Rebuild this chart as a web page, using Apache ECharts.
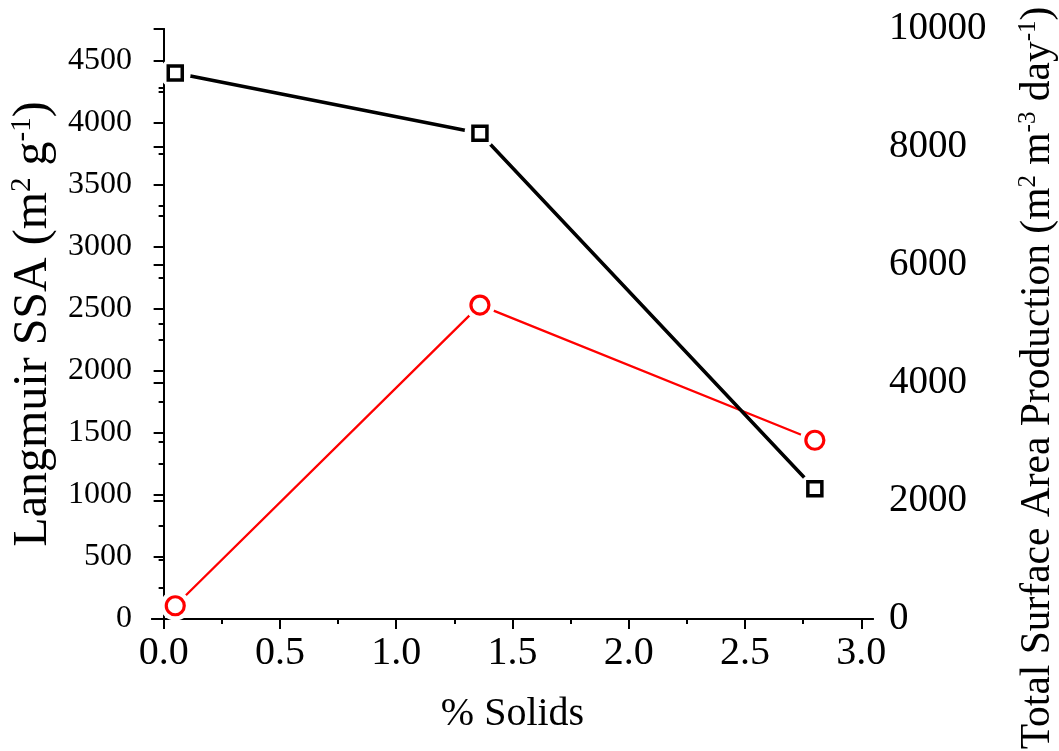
<!DOCTYPE html>
<html><head><meta charset="utf-8">
<script src="https://cdn.jsdelivr.net/npm/echarts@6/dist/echarts.min.js"></script>
<style>html,body{margin:0;padding:0;background:#fff}#c{width:1059px;height:751px}</style>
</head><body><div id="c"></div>
<script>
// ---- data ----
const solids = [0.05, 1.36, 2.80];
const langmuirSSA = [4400, 3915, 1050];
const totalSAProduction = [225, 5320, 3030];
const xMajorTicks = [0, 0.5, 1.0, 1.5, 2.0, 2.5, 3.0];
const xMinorTicks = [0.25, 0.75, 1.25, 1.75, 2.25, 2.75];
const leftMajorTicks = [0, 500, 1000, 1500, 2000, 2500, 3000, 3500, 4000, 4500];
const leftMinorTicks = [250, 750, 1250, 1750, 2250, 2750, 3250, 3750, 4250];

const FONT = 'Liberation Serif';
const X_MIN = -0.05, X_MAX = 3.05, L_MAX = 4755, R_MAX = 10000;

const axisLineStyle = {show: true, lineStyle: {color: '#000', width: 2}};
const tickLine = {color: '#000', width: 2};

const redPts = solids.map((x, i) => [x, totalSAProduction[i]]);
const blackPts = solids.map((x, i) => [x, langmuirSSA[i]]);

const chart = echarts.init(document.getElementById('c'), null, {renderer: 'canvas'});
chart.setOption({
  animation: false,
  backgroundColor: '#fff',
  grid: {left: 152, right: 186, top: 29, bottom: 132, outerBoundsMode: 'none', containLabel: false},
  xAxis: [
    { // bottom, major ticks + labels
      type: 'value', position: 'bottom', min: X_MIN, max: X_MAX,
      axisLine: axisLineStyle, splitLine: {show: false},
      axisTick: {show: true, length: 10, inside: false, customValues: xMajorTicks, lineStyle: tickLine},
      axisLabel: {customValues: xMajorTicks, formatter: v => v.toFixed(1), fontFamily: FONT, fontSize: 40, color: '#000', margin: 14},
      name: '% Solids', nameLocation: 'middle', nameGap: 75,
      nameTextStyle: {fontFamily: FONT, fontSize: 40, color: '#000'}
    },
    { // bottom, minor ticks
      type: 'value', position: 'bottom', min: X_MIN, max: X_MAX,
      axisLine: {show: false}, splitLine: {show: false},
      axisTick: {show: true, length: 5, inside: false, customValues: xMinorTicks, lineStyle: tickLine},
      axisLabel: {show: false}
    },
    { // top border
      type: 'value', position: 'top', min: X_MIN, max: X_MAX,
      axisLine: axisLineStyle, splitLine: {show: false},
      axisTick: {show: true, length: 3, inside: true, customValues: xMajorTicks.concat(xMinorTicks), lineStyle: {color: '#000', width: 1.5}},
      axisLabel: {show: false}
    }
  ],
  yAxis: [
    { // left
      type: 'value', position: 'left', min: 0, max: L_MAX,
      axisLine: axisLineStyle, splitLine: {show: false},
      axisTick: {show: true, length: 10, inside: false, customValues: leftMajorTicks, lineStyle: tickLine},
      axisLabel: {customValues: leftMajorTicks, formatter: v => String(v), fontFamily: FONT, fontSize: 32, color: '#000', margin: 20},
      name: '{a|Langmuir SSA (m}{s|2}{a| g}{s|-1}{a|)}',
      nameLocation: 'middle', nameRotate: 90, nameGap: 70,
      nameTextStyle: {
        rich: {
          a: {fontFamily: FONT, fontSize: 48, color: '#000', lineHeight: 50},
          s: {fontFamily: FONT, fontSize: 29, color: '#000', verticalAlign: 'top', lineHeight: 50}
        }
      }
    },
    { // right
      type: 'value', position: 'right', min: 0, max: R_MAX, interval: 2000,
      axisLine: axisLineStyle, splitLine: {show: false},
      axisTick: {show: true, length: 10, inside: true, lineStyle: tickLine},
      minorTick: {show: true, splitNumber: 2, length: 5, lineStyle: tickLine},
      axisLabel: {formatter: v => String(v), fontFamily: FONT, fontSize: 39, color: '#000', margin: 16},
      name: '{a|Total Surface Area Production (m}{s|2}{a| m}{s|-3}{a| day}{s|-1}{a|)}',
      nameLocation: 'middle', nameRotate: 90, nameGap: 143,
      nameTextStyle: {
        padding: [0, 108, 0, 0],
        rich: {
          a: {fontFamily: FONT, fontSize: 41.5, color: '#000', lineHeight: 44},
          s: {fontFamily: FONT, fontSize: 25, color: '#000', verticalAlign: 'top', lineHeight: 44}
        }
      }
    },
    { // left minor ticks
      type: 'value', position: 'left', min: 0, max: L_MAX,
      axisLine: {show: false}, splitLine: {show: false},
      axisTick: {show: true, length: 5, inside: false, customValues: leftMinorTicks, lineStyle: tickLine},
      axisLabel: {show: false}
    }
  ],
  series: [
    { // red line
      type: 'line', yAxisIndex: 1, data: redPts, showSymbol: false, symbol: 'none',
      lineStyle: {color: '#ff0000', width: 2.3}, z: 2
    },
    { // black line
      type: 'line', yAxisIndex: 0, data: blackPts, showSymbol: false, symbol: 'none',
      lineStyle: {color: '#000', width: 3.5}, z: 2
    },
    { // white gaps around red markers
      type: 'scatter', yAxisIndex: 1, data: redPts, symbol: 'circle', symbolSize: 30,
      itemStyle: {color: '#fff', opacity: 1}, z: 3, silent: true
    },
    { // white gaps around black markers
      type: 'scatter', yAxisIndex: 0, data: blackPts, symbol: 'circle', symbolSize: 31,
      itemStyle: {color: '#fff', opacity: 1}, z: 3, silent: true
    },
    { // red markers
      name: 'Total Surface Area Production', type: 'scatter', yAxisIndex: 1, data: redPts,
      symbol: 'circle', symbolSize: 18,
      itemStyle: {color: '#fff', borderColor: '#ff0000', borderWidth: 3.2, opacity: 1}, z: 4
    },
    { // black markers
      name: 'Langmuir SSA', type: 'scatter', yAxisIndex: 0, data: blackPts,
      symbol: 'rect', symbolSize: 14,
      itemStyle: {color: '#fff', borderColor: '#000', borderWidth: 3.5, opacity: 1}, z: 4
    }
  ]
});
</script>
</body></html>
